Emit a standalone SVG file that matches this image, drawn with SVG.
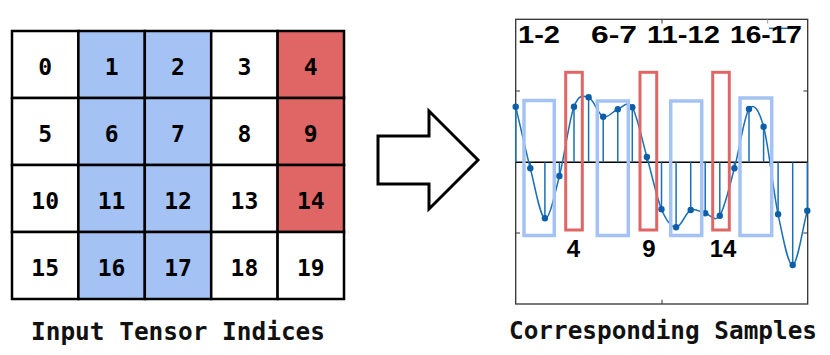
<svg xmlns="http://www.w3.org/2000/svg" width="830" height="355" viewBox="0 0 830 355">
<style>
.cell{stroke:#000;stroke-width:2.5}
.w{fill:#fff}.b{fill:#a4c2f4}.r{fill:#e06666}
.n{font-family:"DejaVu Sans Mono","Liberation Mono",monospace;font-weight:bold;font-size:23px;text-anchor:middle;fill:#000}
.cap{font-family:"DejaVu Sans Mono","Liberation Mono",monospace;font-weight:bold;font-size:24px;fill:#111}
.lbl{font-family:"Liberation Sans",Arial,sans-serif;font-weight:bold;font-size:24px;text-anchor:middle;fill:#000}
.rb{fill:none;stroke:#e06666;stroke-width:3}
.bb{fill:none;stroke:#a4c2f4;stroke-width:3.5}
.stem{stroke:#1a6fb5;stroke-width:1.5}
.dot{fill:#0b5ea8}
</style>
<rect width="830" height="355" fill="#fff"/>
<g id="grid">
<g id="row0">
<rect class="cell w" x="12" y="31" width="66.4" height="67"/><rect class="cell b" x="78.4" y="31" width="66.4" height="67"/><rect class="cell b" x="144.8" y="31" width="66.4" height="67"/><rect class="cell w" x="211.2" y="31" width="66.4" height="67"/><rect class="cell r" x="277.6" y="31" width="66.4" height="67"/>
<text class="n" x="45.2" y="75">0</text><text class="n" x="111.6" y="75">1</text><text class="n" x="178" y="75">2</text><text class="n" x="244.4" y="75">3</text><text class="n" x="310.8" y="75">4</text>
</g>
<g id="row1">
<rect class="cell w" x="12" y="98" width="66.4" height="67"/><rect class="cell b" x="78.4" y="98" width="66.4" height="67"/><rect class="cell b" x="144.8" y="98" width="66.4" height="67"/><rect class="cell w" x="211.2" y="98" width="66.4" height="67"/><rect class="cell r" x="277.6" y="98" width="66.4" height="67"/>
<text class="n" x="45.2" y="142">5</text><text class="n" x="111.6" y="142">6</text><text class="n" x="178" y="142">7</text><text class="n" x="244.4" y="142">8</text><text class="n" x="310.8" y="142">9</text>
</g>
<g id="row2">
<rect class="cell w" x="12" y="165" width="66.4" height="67"/><rect class="cell b" x="78.4" y="165" width="66.4" height="67"/><rect class="cell b" x="144.8" y="165" width="66.4" height="67"/><rect class="cell w" x="211.2" y="165" width="66.4" height="67"/><rect class="cell r" x="277.6" y="165" width="66.4" height="67"/>
<text class="n" x="45.2" y="209">10</text><text class="n" x="111.6" y="209">11</text><text class="n" x="178" y="209">12</text><text class="n" x="244.4" y="209">13</text><text class="n" x="310.8" y="209">14</text>
</g>
<g id="row3">
<rect class="cell w" x="12" y="232" width="66.4" height="67"/><rect class="cell b" x="78.4" y="232" width="66.4" height="67"/><rect class="cell b" x="144.8" y="232" width="66.4" height="67"/><rect class="cell w" x="211.2" y="232" width="66.4" height="67"/><rect class="cell w" x="277.6" y="232" width="66.4" height="67"/>
<text class="n" x="45.2" y="276">15</text><text class="n" x="111.6" y="276">16</text><text class="n" x="178" y="276">17</text><text class="n" x="244.4" y="276">18</text><text class="n" x="310.8" y="276">19</text>
</g>
</g>
<text class="cap" x="31" y="339.5" textLength="294" lengthAdjust="spacingAndGlyphs">Input Tensor Indices</text>

<g id="connectors">
<path id="arrow" d="M378,136 L429,136 L429,111 L478,160 L429,209 L429,184 L378,184 Z" fill="#fff" stroke="#000" stroke-width="3" stroke-linejoin="miter"/>
</g>

<g id="plot">
<rect x="515.7" y="19.3" width="292" height="284.7" fill="#fff" stroke="#333" stroke-width="1.3"/>
<g stroke="#333" stroke-width="1">
<line x1="515.7" y1="91" x2="520" y2="91"/><line x1="515.7" y1="233" x2="520" y2="233"/>
<line x1="807.7" y1="91" x2="803.4" y2="91"/><line x1="807.7" y1="233" x2="803.4" y2="233"/>
<line x1="662" y1="19.3" x2="662" y2="23.5"/><line x1="662" y1="304" x2="662" y2="299.8"/>
<line x1="767.7" y1="19.3" x2="767.7" y2="23.5" stroke="#999"/>
</g>
<line x1="769" y1="28.3" x2="795" y2="28.3" stroke="#1a6fb5" stroke-width="1.5"/>
<line x1="515.7" y1="162.3" x2="807.7" y2="162.3" stroke="#000" stroke-width="1.5"/>
<g id="stems">
<line class="stem" x1="515.7" y1="162.3" x2="515.7" y2="106.7"/>
<line class="stem" x1="530.3" y1="162.3" x2="530.3" y2="168.3"/>
<line class="stem" x1="544.9" y1="162.3" x2="544.9" y2="218.3"/>
<line class="stem" x1="559.4" y1="162.3" x2="559.4" y2="176"/>
<line class="stem" x1="574" y1="162.3" x2="574" y2="106.7"/>
<line class="stem" x1="588.6" y1="162.3" x2="588.6" y2="97.3"/>
<line class="stem" x1="603.2" y1="162.3" x2="603.2" y2="116.7"/>
<line class="stem" x1="617.8" y1="162.3" x2="617.8" y2="109.3"/>
<line class="stem" x1="632.3" y1="162.3" x2="632.3" y2="107.3"/>
<line class="stem" x1="646.9" y1="162.3" x2="646.9" y2="157"/>
<line class="stem" x1="661.5" y1="162.3" x2="661.5" y2="209.3"/>
<line class="stem" x1="676.1" y1="162.3" x2="676.1" y2="227.3"/>
<line class="stem" x1="690.7" y1="162.3" x2="690.7" y2="210"/>
<line class="stem" x1="705.2" y1="162.3" x2="705.2" y2="213.3"/>
<line class="stem" x1="719.8" y1="162.3" x2="719.8" y2="215.7"/>
<line class="stem" x1="734.4" y1="162.3" x2="734.4" y2="168.3"/>
<line class="stem" x1="749" y1="162.3" x2="749" y2="109"/>
<line class="stem" x1="763.6" y1="162.3" x2="763.6" y2="126.7"/>
<line class="stem" x1="778.1" y1="162.3" x2="778.1" y2="214.3"/>
<line class="stem" x1="792.7" y1="162.3" x2="792.7" y2="265"/>
<line class="stem" x1="807.3" y1="162.3" x2="807.3" y2="210.7"/>
</g>
<path id="curve" fill="none" stroke="#1a6fb5" stroke-width="1.5" d="M515.7,106.7 C520.56,127.2 525.44,149.7 530.3,168.3 C535.16,186.9 540.04,217 544.9,218.3 C549.76,219.6 554.54,194.6 559.4,176 C564.26,157.4 569.14,119.8 574,106.7 C578.86,93.6 583.74,95.6 588.6,97.3 C593.46,99 598.34,114.7 603.2,116.7 C608.06,118.7 612.94,110.9 617.8,109.3 C622.66,107.7 627.44,99.35 632.3,107.3 C637.16,115.25 642.04,140 646.9,157 C651.76,174 656.64,197.6 661.5,209.3 C666.36,221 671.24,227.2 676.1,227.3 C680.96,227.4 685.84,212.3 690.7,210 C695.56,207.7 700.34,212.35 705.2,213.3 C710.06,214.25 714.94,223.2 719.8,215.7 C724.66,208.2 729.54,186.1 734.4,168.3 C739.26,150.5 744.14,115.9 749,109 C753.86,102.1 758.74,109.15 763.6,126.7 C768.46,144.25 773.24,191.25 778.1,214.3 C782.96,237.35 787.84,265.6 792.7,265 C797.56,264.4 802.44,228.8 807.3,210.7"/>
<g id="dots">
<circle class="dot" cx="515.7" cy="106.7" r="3.2"/><circle class="dot" cx="530.3" cy="168.3" r="3.2"/><circle class="dot" cx="544.9" cy="218.3" r="3.2"/><circle class="dot" cx="559.4" cy="176" r="3.2"/><circle class="dot" cx="574" cy="106.7" r="3.2"/><circle class="dot" cx="588.6" cy="97.3" r="3.2"/><circle class="dot" cx="603.2" cy="116.7" r="3.2"/><circle class="dot" cx="617.8" cy="109.3" r="3.2"/><circle class="dot" cx="632.3" cy="107.3" r="3.2"/><circle class="dot" cx="646.9" cy="157" r="3.2"/><circle class="dot" cx="661.5" cy="209.3" r="3.2"/><circle class="dot" cx="676.1" cy="227.3" r="3.2"/><circle class="dot" cx="690.7" cy="210" r="3.2"/><circle class="dot" cx="705.2" cy="213.3" r="3.2"/><circle class="dot" cx="719.8" cy="215.7" r="3.2"/><circle class="dot" cx="734.4" cy="168.3" r="3.2"/><circle class="dot" cx="749" cy="109" r="3.2"/><circle class="dot" cx="763.6" cy="126.7" r="3.2"/><circle class="dot" cx="778.1" cy="214.3" r="3.2"/><circle class="dot" cx="792.7" cy="265" r="3.2"/><circle class="dot" cx="807.3" cy="210.7" r="3.2"/>
</g>
<g id="boxes">
<rect class="bb" x="524" y="100.5" width="30.3" height="135"/>
<rect class="bb" x="597.3" y="101" width="31" height="134.5"/>
<rect class="bb" x="670.7" y="101" width="31" height="134.5"/>
<rect class="bb" x="740" y="98" width="31.7" height="137.5"/>
<rect class="rb" x="565.7" y="72.3" width="16.6" height="157.7"/>
<rect class="rb" x="640" y="72.3" width="16.7" height="157.7"/>
<rect class="rb" x="712.7" y="72.3" width="16.6" height="157.7"/>
</g>
<text class="lbl" x="539" y="43" textLength="42" lengthAdjust="spacingAndGlyphs">1-2</text>
<text class="lbl" x="614" y="43" textLength="46" lengthAdjust="spacingAndGlyphs">6-7</text>
<text class="lbl" x="683.5" y="43" textLength="73" lengthAdjust="spacingAndGlyphs">11-12</text>
<text class="lbl" x="766" y="43" textLength="72" lengthAdjust="spacingAndGlyphs">16-17</text>
<text class="lbl" x="573.5" y="257">4</text>
<text class="lbl" x="649" y="257">9</text>
<text class="lbl" x="723" y="257">14</text>
</g>
<text class="cap" x="509" y="339" textLength="308" lengthAdjust="spacingAndGlyphs">Corresponding Samples</text>
</svg>
